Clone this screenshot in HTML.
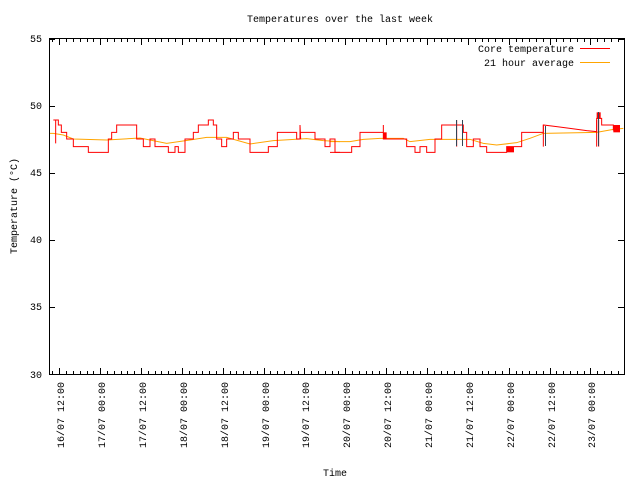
<!DOCTYPE html>
<html><head><style>
html,body{margin:0;padding:0;background:#fff;}
svg{display:block;font-family:"Liberation Mono","DejaVu Sans Mono",monospace;font-size:10px;}
</style></head><body>
<svg width="640" height="480" viewBox="0 0 640 480">
<rect width="640" height="480" fill="#fff"/>
<text x="340" y="22" text-anchor="middle">Temperatures over the last week</text>
<text x="335" y="476" text-anchor="middle">Time</text>
<text transform="translate(17,206) rotate(-90)" text-anchor="middle">Temperature (°C)</text>
<g text-anchor="end">
<text x="42" y="42">55</text><text x="42" y="109">50</text><text x="42" y="176">45</text>
<text x="42" y="243">40</text><text x="42" y="310">35</text><text x="42" y="378">30</text>
</g>
<g stroke="#000" stroke-width="1" fill="none">
<path d="M49 106.5h6M49 173.5h6M49 240.5h6M49 307.5h6M624 106.5h-6M624 173.5h-6M624 240.5h-6M624 307.5h-6M49 39.5h6M624 39.5h-6"/>
<path d="M59.5 374v-6M100.5 374v-6M141.5 374v-6M182.5 374v-6M223.5 374v-6M264.5 374v-6M304.5 374v-6M345.5 374v-6M386.5 374v-6M427.5 374v-6M468.5 374v-6M509.5 374v-6M550.5 374v-6M590.5 374v-6
M59.5 39v6M100.5 39v6M141.5 39v6M182.5 39v6M223.5 39v6M264.5 39v6M304.5 39v6M345.5 39v6M386.5 39v6M427.5 39v6M468.5 39v6M509.5 39v6M550.5 39v6M590.5 39v6"/>
<path id="mn" d="M52.5 374v-3M66.5 374v-3M73.5 374v-3M80.5 374v-3M87.5 374v-3M93.5 374v-3M107.5 374v-3M114.5 374v-3M121.5 374v-3M127.5 374v-3M134.5 374v-3M148.5 374v-3M155.5 374v-3M161.5 374v-3M168.5 374v-3M175.5 374v-3M189.5 374v-3M196.5 374v-3M202.5 374v-3M209.5 374v-3M216.5 374v-3M230.5 374v-3M236.5 374v-3M243.5 374v-3M250.5 374v-3M257.5 374v-3M270.5 374v-3M277.5 374v-3M284.5 374v-3M291.5 374v-3M298.5 374v-3M311.5 374v-3M318.5 374v-3M325.5 374v-3M332.5 374v-3M338.5 374v-3M352.5 374v-3M359.5 374v-3M366.5 374v-3M372.5 374v-3M379.5 374v-3M393.5 374v-3M400.5 374v-3M407.5 374v-3M413.5 374v-3M420.5 374v-3M434.5 374v-3M441.5 374v-3M447.5 374v-3M454.5 374v-3M461.5 374v-3M475.5 374v-3M482.5 374v-3M488.5 374v-3M495.5 374v-3M502.5 374v-3M516.5 374v-3M522.5 374v-3M529.5 374v-3M536.5 374v-3M543.5 374v-3M556.5 374v-3M563.5 374v-3M570.5 374v-3M577.5 374v-3M584.5 374v-3M597.5 374v-3M604.5 374v-3M611.5 374v-3M618.5 374v-3"/>
<path d="M52.5 39v3M66.5 39v3M73.5 39v3M80.5 39v3M87.5 39v3M93.5 39v3M107.5 39v3M114.5 39v3M121.5 39v3M127.5 39v3M134.5 39v3M148.5 39v3M155.5 39v3M161.5 39v3M168.5 39v3M175.5 39v3M189.5 39v3M196.5 39v3M202.5 39v3M209.5 39v3M216.5 39v3M230.5 39v3M236.5 39v3M243.5 39v3M250.5 39v3M257.5 39v3M270.5 39v3M277.5 39v3M284.5 39v3M291.5 39v3M298.5 39v3M311.5 39v3M318.5 39v3M325.5 39v3M332.5 39v3M338.5 39v3M352.5 39v3M359.5 39v3M366.5 39v3M372.5 39v3M379.5 39v3M393.5 39v3M400.5 39v3M407.5 39v3M413.5 39v3M420.5 39v3M434.5 39v3M441.5 39v3M447.5 39v3M454.5 39v3M461.5 39v3M475.5 39v3M482.5 39v3M488.5 39v3M495.5 39v3M502.5 39v3M516.5 39v3M522.5 39v3M529.5 39v3M536.5 39v3M543.5 39v3M556.5 39v3M563.5 39v3M570.5 39v3M577.5 39v3M584.5 39v3M597.5 39v3M604.5 39v3M611.5 39v3M618.5 39v3"/>
</g>
<g text-anchor="end">
<text transform="translate(64,382) rotate(-90)">16/07 12:00</text>
<text transform="translate(105,382) rotate(-90)">17/07 00:00</text>
<text transform="translate(146,382) rotate(-90)">17/07 12:00</text>
<text transform="translate(187,382) rotate(-90)">18/07 00:00</text>
<text transform="translate(228,382) rotate(-90)">18/07 12:00</text>
<text transform="translate(269,382) rotate(-90)">19/07 00:00</text>
<text transform="translate(309,382) rotate(-90)">19/07 12:00</text>
<text transform="translate(350,382) rotate(-90)">20/07 00:00</text>
<text transform="translate(391,382) rotate(-90)">20/07 12:00</text>
<text transform="translate(432,382) rotate(-90)">21/07 00:00</text>
<text transform="translate(473,382) rotate(-90)">21/07 12:00</text>
<text transform="translate(514,382) rotate(-90)">22/07 00:00</text>
<text transform="translate(555,382) rotate(-90)">22/07 12:00</text>
<text transform="translate(595,382) rotate(-90)">23/07 00:00</text>
</g>
<g transform="translate(40,100) scale(0.33333)" fill="none">
<polyline vector-effect="non-scaling-stroke" stroke="#ffa500" stroke-width="1" points="30,100 40,100 70,105 100,117 200,120 300,114 380,130 450,120 500,112 560,112 630,132 700,122 800,116 850,122 900,125"/>
</g>
<g transform="translate(330,100) scale(0.33333)" fill="none">
<polyline vector-effect="non-scaling-stroke" stroke="#ffa500" stroke-width="1" points="0,125 60,125 100,118 150,115 220,115 240,125 300,118 420,118 460,130 500,135 560,128 600,115 640,100 800,97 850,88 880,85"/>
</g>
<g transform="translate(40,100) scale(0.33333)" fill="none">
<polyline vector-effect="non-scaling-stroke" stroke="#f00" stroke-width="1" points="40,60 40,60 47,60 47,130 47,60 55,60 55,75 64,75 64,97 80,97 80,117 100,117 100,140 145,140 145,157 205,157 205,117 215,117 215,97 230,97 230,75 290,75 290,117 310,117 310,140 330,140 330,117 345,117 345,140 385,140 385,157 405,157 405,140 415,140 415,157 435,157 435,117 460,117 460,97 475,97 475,75 505,75 505,60 520,60 520,75 530,75 530,117 545,117 545,140 560,140 560,117 580,117 580,97 595,97 595,117 630,117 630,157 685,157 685,140 712,140 712,97 770,97 770,117 780,117 780,75 782,117 780,97 825,97 825,117 855,117 855,140 870,140 870,117 885,117 885,157 900,157"/>
</g>
<g transform="translate(330,100) scale(0.33333)" fill="none">
<polyline vector-effect="non-scaling-stroke" stroke="#f00" stroke-width="1" points="0,157 65,157 65,140 90,140 90,97 160,97 160,75 160,117 230,117 230,140 255,140 255,157 270,157 270,140 290,140 290,157 315,157 315,117 335,117 335,75 380,75 380,140 380,60 380,75 400,75 400,97 410,97 410,140 430,140 430,117 450,117 450,140 470,140 470,157 530,157 530,140 575,140 575,97 640,97 640,75 680,80 720,85 770,92 800,95 800,55 815,55 815,75 850,75 850,90 870,90"/>
<rect x="160" y="97" width="10" height="20" fill="#f00"/>
<rect x="530" y="140" width="22" height="17" fill="#f00"/>
<rect x="800" y="37" width="12" height="20" fill="#f00"/>
<rect x="850" y="75" width="20" height="22" fill="#f00"/>
<path vector-effect="non-scaling-stroke" stroke="#f00" d="M640 75V140M800 60V140M806 60V140"/>
</g>
<path d="M456.5 120V146M462.5 120V146M545.5 126V146M598.5 112V146" stroke="#345" stroke-width="1"/>
<text x="574" y="52" text-anchor="end">Core temperature</text>
<text x="574" y="66" text-anchor="end">21 hour average</text>
<path d="M580 48.5h30" stroke="#f00"/>
<path d="M580 62.5h30" stroke="#ffa500"/>
<rect x="49.5" y="38.5" width="575" height="336" fill="none" stroke="#000"/>
</svg>
</body></html>
